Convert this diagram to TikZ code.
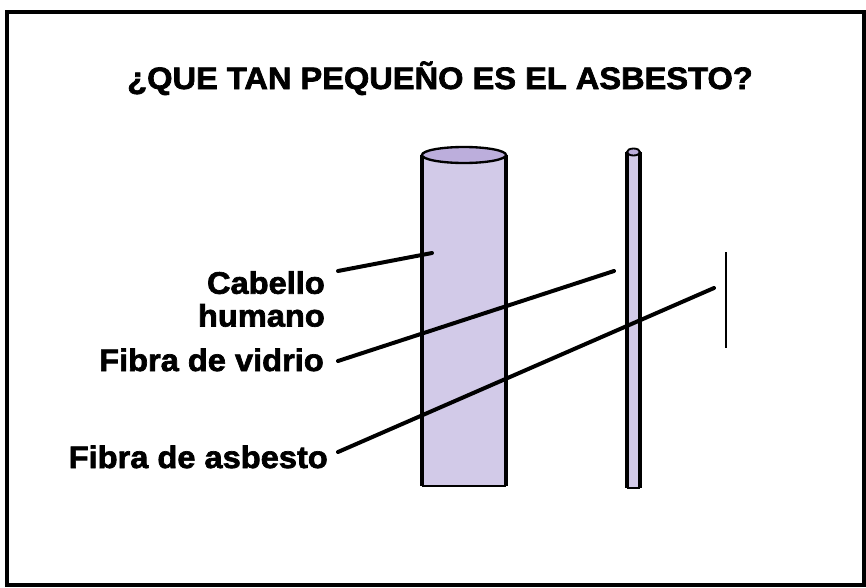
\documentclass[tikz,border=0pt]{standalone}
\usepackage{fontspec}
\setmainfont{Liberation Sans}
\newfontfamily\labelfont{Liberation Sans}[FakeStretch=1.05, FakeBold=2.2]
\usepackage{tikz}
\usetikzlibrary{positioning}

\definecolor{fibrefill}{RGB}{210,202,232}
\definecolor{fibretop}{RGB}{188,174,220}

\tikzset{
    label text/.style={font=\labelfont\bfseries\fontsize{26.5}{28}\selectfont, inner sep=0pt, align=right},
    pointer/.style={line width=3.4pt, line cap=round},
    fibre side/.style={line width=2.6pt},
    fibre end/.style={line width=1.6pt}
}

\begin{document}
\begin{tikzpicture}[x=0.03cm, y=-0.03cm]
    \useasboundingbox (0,0) rectangle (866,588);
    % Frame
    \draw[line width=2.6pt] (7,12) rectangle (864,585);

    % Title
    \node[label text, anchor=base] (title) at (440,89) {¿QUE TAN PEQUEÑO ES EL ASBESTO?};

    % Human hair (big cylinder)
    \def\hx{422} \def\hw{84}
    \fill[fibrefill] (\hx,155) rectangle (\hx+\hw,486);
    \draw[fibre side] (\hx,155) -- (\hx,486);
    \draw[fibre side] (\hx+\hw,155) -- (\hx+\hw,486);
    \draw[fibre end] (\hx,486) -- (\hx+\hw,486);
    \filldraw[fill=fibretop, line width=2pt] (\hx+\hw/2,155) ellipse [x radius=\hw/2, y radius=8];

    % Glass fibre (thin rod)
    \def\gx{627} \def\gw{13}
    \fill[fibrefill] (\gx,152) rectangle (\gx+\gw,488);
    \draw[fibre side] (\gx,152) -- (\gx,488);
    \draw[fibre side] (\gx+\gw,152) -- (\gx+\gw,488);
    \draw[fibre end] (\gx,488) -- (\gx+\gw,488);
    \filldraw[fill=fibretop, line width=1.6pt] (\gx+\gw/2,152) ellipse [x radius=\gw/2, y radius=3.5];

    % Asbestos fibre (a single line)
    \draw[line width=2.2pt] (726,252) -- (726,348);

    % Labels
    \node[label text, anchor=north east] (hair) at (325,271) {Cabello\\humano};
    \node[label text, anchor=base east] (glass) at (324,371) {Fibra de vidrio};
    \node[label text, anchor=base east] (asbestos) at (328,468) {Fibra de asbesto};

    % Pointer ends
    \coordinate (hairA) at (338,271);
    \coordinate (hairB) at (432,253);
    \coordinate (glassA) at (338,361);
    \coordinate (glassB) at (614,271);
    \coordinate (asbestosA) at (338,452);
    \coordinate (asbestosB) at (714,288);

    % Pointers
    \draw[pointer] (hairA) -- (hairB);
    \draw[pointer] (glassA) -- (glassB);
    \draw[pointer] (asbestosA) -- (asbestosB);
\end{tikzpicture}
\end{document}
